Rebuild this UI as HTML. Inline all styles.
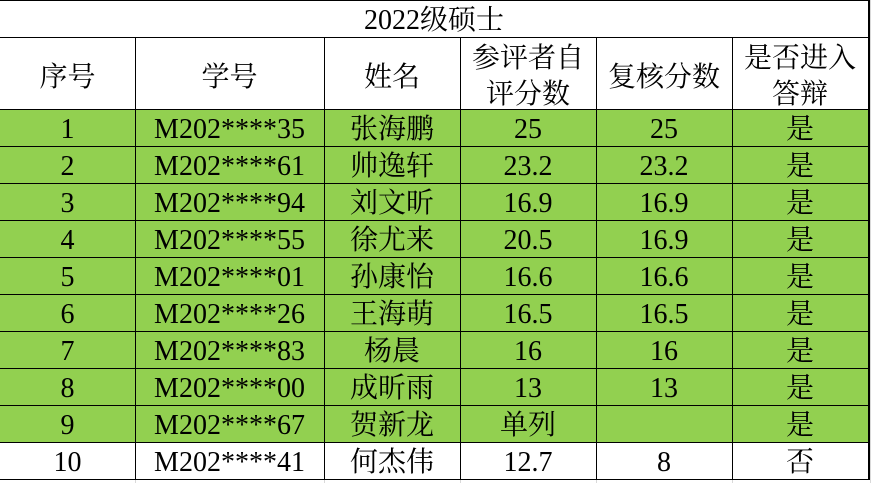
<!DOCTYPE html>
<html>
<head>
<meta charset="utf-8">
<style>
  html, body { margin:0; padding:0; background:#fff; }
  #wrap { position:relative; width:871px; height:483px; overflow:hidden; background:#fff; font-size:28px; color:#000; }
  .t, .t2 { font-family:'Liberation Serif','Times New Roman',Times,'Noto Serif CJK SC','Noto Serif CJK JP','Noto Serif SC','Source Han Serif SC','AR PL UMing CN',serif; }
  .fill { position:absolute; background:#92D050; }
  .h { position:absolute; height:1px; background:#000; }
  .v { position:absolute; width:1px; background:#000; }
  .g { position:absolute; background:#d9d9d9; }
  .t { position:absolute; text-align:center; white-space:nowrap; line-height:37px; height:37px; }
  .t2 { position:absolute; text-align:center; white-space:nowrap; line-height:36px; }
</style>
</head>
<body>
<div id="wrap">
  <div class="fill" style="left:0;top:109px;width:868px;height:333px;"></div>

  <div class="g" style="left:870px;top:0;width:1px;height:483px;"></div>
  <div class="g" style="left:135px;top:480px;width:1px;height:3px;"></div>
  <div class="g" style="left:324px;top:480px;width:1px;height:3px;"></div>
  <div class="g" style="left:460px;top:480px;width:1px;height:3px;"></div>
  <div class="g" style="left:596px;top:480px;width:1px;height:3px;"></div>
  <div class="g" style="left:732px;top:480px;width:1px;height:3px;"></div>

  <div class="h" style="left:0;top:0;width:870px;"></div>
  <div class="h" style="left:0;top:37px;width:870px;"></div>
  <div class="h" style="left:0;top:109px;width:870px;"></div>
  <div class="h" style="left:0;top:146px;width:870px;"></div>
  <div class="h" style="left:0;top:183px;width:870px;"></div>
  <div class="h" style="left:0;top:220px;width:870px;"></div>
  <div class="h" style="left:0;top:257px;width:870px;"></div>
  <div class="h" style="left:0;top:294px;width:870px;"></div>
  <div class="h" style="left:0;top:331px;width:870px;"></div>
  <div class="h" style="left:0;top:368px;width:870px;"></div>
  <div class="h" style="left:0;top:405px;width:870px;"></div>
  <div class="h" style="left:0;top:442px;width:870px;"></div>
  <div class="h" style="left:0;top:479px;width:870px;"></div>

  <div class="v" style="left:135px;top:37px;height:443px;"></div>
  <div class="v" style="left:324px;top:37px;height:443px;"></div>
  <div class="v" style="left:460px;top:37px;height:443px;"></div>
  <div class="v" style="left:596px;top:37px;height:443px;"></div>
  <div class="v" style="left:732px;top:37px;height:443px;"></div>
  <div class="v" style="left:868px;top:0;height:480px;width:2px;"></div>

  <div class="t" style="left:0;top:2px;width:868px;">2022级硕士</div>

  <div class="t" style="left:0;top:59px;width:135px;">序号</div>
  <div class="t" style="left:135px;top:59px;width:189px;">学号</div>
  <div class="t" style="left:324px;top:59px;width:136px;">姓名</div>
  <div class="t2" style="left:460px;top:41px;width:136px;">参评者自<br>评分数</div>
  <div class="t" style="left:596px;top:59px;width:136px;">复核分数</div>
  <div class="t2" style="left:732px;top:41px;width:136px;">是否进入<br>答辩</div>

  <div class="t" style="left:0;top:111px;width:135px;">1</div>
  <div class="t" style="left:135px;top:111px;width:189px;">M202****35</div>
  <div class="t" style="left:324px;top:111px;width:136px;">张海鹏</div>
  <div class="t" style="left:460px;top:111px;width:136px;">25</div>
  <div class="t" style="left:596px;top:111px;width:136px;">25</div>
  <div class="t" style="left:732px;top:111px;width:136px;">是</div>

  <div class="t" style="left:0;top:148px;width:135px;">2</div>
  <div class="t" style="left:135px;top:148px;width:189px;">M202****61</div>
  <div class="t" style="left:324px;top:148px;width:136px;">帅逸轩</div>
  <div class="t" style="left:460px;top:148px;width:136px;">23.2</div>
  <div class="t" style="left:596px;top:148px;width:136px;">23.2</div>
  <div class="t" style="left:732px;top:148px;width:136px;">是</div>

  <div class="t" style="left:0;top:185px;width:135px;">3</div>
  <div class="t" style="left:135px;top:185px;width:189px;">M202****94</div>
  <div class="t" style="left:324px;top:185px;width:136px;">刘文昕</div>
  <div class="t" style="left:460px;top:185px;width:136px;">16.9</div>
  <div class="t" style="left:596px;top:185px;width:136px;">16.9</div>
  <div class="t" style="left:732px;top:185px;width:136px;">是</div>

  <div class="t" style="left:0;top:222px;width:135px;">4</div>
  <div class="t" style="left:135px;top:222px;width:189px;">M202****55</div>
  <div class="t" style="left:324px;top:222px;width:136px;">徐尤来</div>
  <div class="t" style="left:460px;top:222px;width:136px;">20.5</div>
  <div class="t" style="left:596px;top:222px;width:136px;">16.9</div>
  <div class="t" style="left:732px;top:222px;width:136px;">是</div>

  <div class="t" style="left:0;top:259px;width:135px;">5</div>
  <div class="t" style="left:135px;top:259px;width:189px;">M202****01</div>
  <div class="t" style="left:324px;top:259px;width:136px;">孙康怡</div>
  <div class="t" style="left:460px;top:259px;width:136px;">16.6</div>
  <div class="t" style="left:596px;top:259px;width:136px;">16.6</div>
  <div class="t" style="left:732px;top:259px;width:136px;">是</div>

  <div class="t" style="left:0;top:296px;width:135px;">6</div>
  <div class="t" style="left:135px;top:296px;width:189px;">M202****26</div>
  <div class="t" style="left:324px;top:296px;width:136px;">王海萌</div>
  <div class="t" style="left:460px;top:296px;width:136px;">16.5</div>
  <div class="t" style="left:596px;top:296px;width:136px;">16.5</div>
  <div class="t" style="left:732px;top:296px;width:136px;">是</div>

  <div class="t" style="left:0;top:333px;width:135px;">7</div>
  <div class="t" style="left:135px;top:333px;width:189px;">M202****83</div>
  <div class="t" style="left:324px;top:333px;width:136px;">杨晨</div>
  <div class="t" style="left:460px;top:333px;width:136px;">16</div>
  <div class="t" style="left:596px;top:333px;width:136px;">16</div>
  <div class="t" style="left:732px;top:333px;width:136px;">是</div>

  <div class="t" style="left:0;top:370px;width:135px;">8</div>
  <div class="t" style="left:135px;top:370px;width:189px;">M202****00</div>
  <div class="t" style="left:324px;top:370px;width:136px;">成昕雨</div>
  <div class="t" style="left:460px;top:370px;width:136px;">13</div>
  <div class="t" style="left:596px;top:370px;width:136px;">13</div>
  <div class="t" style="left:732px;top:370px;width:136px;">是</div>

  <div class="t" style="left:0;top:407px;width:135px;">9</div>
  <div class="t" style="left:135px;top:407px;width:189px;">M202****67</div>
  <div class="t" style="left:324px;top:407px;width:136px;">贺新龙</div>
  <div class="t" style="left:460px;top:407px;width:136px;">单列</div>
  <div class="t" style="left:732px;top:407px;width:136px;">是</div>

  <div class="t" style="left:0;top:444px;width:135px;">10</div>
  <div class="t" style="left:135px;top:444px;width:189px;">M202****41</div>
  <div class="t" style="left:324px;top:444px;width:136px;">何杰伟</div>
  <div class="t" style="left:460px;top:444px;width:136px;">12.7</div>
  <div class="t" style="left:596px;top:444px;width:136px;">8</div>
  <div class="t" style="left:732px;top:444px;width:136px;">否</div>
</div>
</body>
</html>
